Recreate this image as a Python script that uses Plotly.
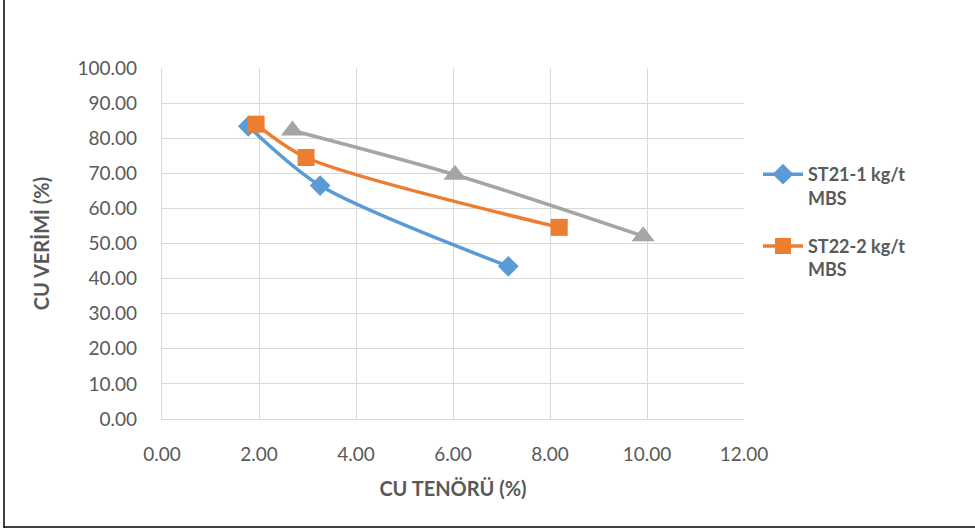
import plotly.graph_objects as go

# Data
st21_x = [1.78, 3.26, 7.14]
st21_y = [83.4, 66.5, 43.5]
st22_x = [1.94, 2.97, 8.19]
st22_y = [84.0, 74.5, 54.6]
st23_x = [2.69, 6.04, 9.92]
st23_y = [82.2, 69.6, 52.1]

names = ["ST21-1 kg/t<br>MBS", "ST22-2 kg/t<br>MBS", "ST23"]
colors = ["#5B9BD5", "#ED7D31", "#A5A5A5"]
x_ticks = [0, 2, 4, 6, 8, 10, 12]
y_ticks = [0, 10, 20, 30, 40, 50, 60, 70, 80, 90, 100]

FONT = "Lato"
TXT = "#595959"

fig = go.Figure()
fig.add_trace(go.Scatter(x=st21_x, y=st21_y, name=names[0], mode="lines+markers",
                         line=dict(color=colors[0], width=3.5, shape="spline", smoothing=0.8),
                         marker=dict(symbol="diamond", size=16, color=colors[0]),
                         legendgroup="a"))
fig.add_trace(go.Scatter(x=st22_x, y=st22_y, name=names[1], mode="lines+markers",
                         line=dict(color=colors[1], width=3.5, shape="spline", smoothing=0.8),
                         marker=dict(symbol="square", size=17, color=colors[1]),
                         legendgroup="b"))
fig.add_trace(go.Scatter(x=st23_x, y=st23_y, name=names[2], mode="lines+markers",
                         line=dict(color=colors[2], width=3.5, shape="spline", smoothing=0.8),
                         marker=dict(symbol="triangle-up", size=20, color=colors[2]),
                         showlegend=False))

L, R, T, B = 162, 231, 68, 110
W, H = 975, 529
pw, ph = W - L - R, H - T - B

def px(xp):
    return (xp - L) / pw

def py(yp):
    return (H - B - yp) / ph

fig.update_layout(
    width=W, height=H,
    margin=dict(l=L, r=R, t=T, b=B),
    paper_bgcolor="white", plot_bgcolor="white",
    font=dict(family=FONT, color=TXT, size=19),
    legend=dict(x=px(758), y=py(156), xanchor="left", yanchor="top",
                font=dict(family=FONT, size=18, color=TXT, weight="bold"),
                valign="top", tracegroupgap=22, traceorder="grouped",
                bgcolor="rgba(0,0,0,0)", itemwidth=40),
    shapes=[
        dict(type="line", xref="paper", yref="paper", x0=px(4), x1=px(4), y0=py(528), y1=py(0),
             line=dict(color="black", width=1.5)),
        dict(type="line", xref="paper", yref="paper", x0=px(4), x1=px(975), y0=py(527), y1=py(527),
             line=dict(color="black", width=1.5)),
    ],
)
fig.update_xaxes(range=[0, 12], tickvals=x_ticks, tickformat=".2f",
                 showgrid=True, gridcolor="#D9D9D9", gridwidth=1.3,
                 showline=True, linecolor="#D9D9D9", linewidth=1.3, zeroline=False,
                 ticks="", ticklabelstandoff=18,
                 tickfont=dict(family=FONT, size=19, color=TXT),
                 title=dict(text="CU TENÖRÜ (%)", standoff=18,
                            font=dict(family=FONT, size=20, color=TXT, weight="bold")))
fig.update_yaxes(range=[0, 100], tickvals=y_ticks, tickformat=".2f",
                 showgrid=True, gridcolor="#D9D9D9", gridwidth=1.3,
                 showline=True, linecolor="#D9D9D9", linewidth=1.3, zeroline=False,
                 ticks="", ticklabelstandoff=20,
                 tickfont=dict(family=FONT, size=19, color=TXT),
                 title=dict(text="CU VERİMİ (%)", standoff=22,
                            font=dict(family=FONT, size=20, color=TXT, weight="bold")))

fig.write_html("out.html")
